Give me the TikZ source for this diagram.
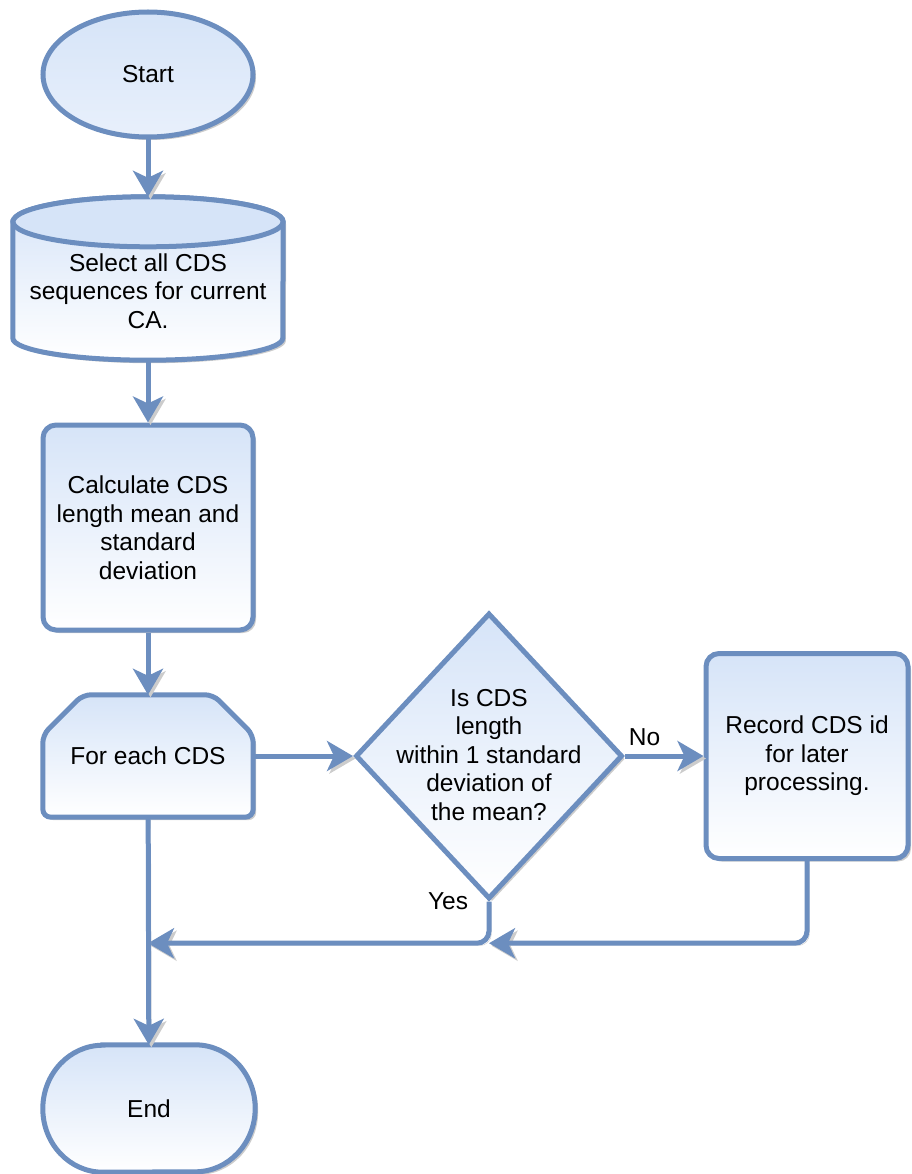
\documentclass[tikz,border=0pt]{standalone}
\usepackage{fontspec}
\setmainfont{Liberation Sans}
\usetikzlibrary{shapes.geometric,arrows.meta,shadows,calc,backgrounds}
\definecolor{lineblue}{RGB}{108,142,191}
\definecolor{fillblue}{RGB}{214,228,248}
\begin{document}
\begin{tikzpicture}[x=1pt,y=1pt,
  every node/.style={font=\fontsize{24.5pt}{28.5pt}\selectfont, align=center, inner sep=0pt},
  shadowed/.style={drop shadow={shadow xshift=3pt,shadow yshift=-3pt,fill=black,opacity=0.2}},
  boxfill/.style={top color=fillblue, bottom color=white, draw=lineblue, line width=5pt, shadowed},
  startshape/.style={ellipse, top color=fillblue, bottom color=fillblue!55, draw=lineblue, line width=5pt, shadowed,
                     minimum width=210pt, minimum height=125pt},
  process/.style={rectangle, rounded corners=13pt, boxfill},
  decision/.style={diamond, boxfill, minimum width=267pt, minimum height=286pt},
  conn/.style={draw=lineblue, line width=5pt, -{Stealth[length=26pt,width=30pt,inset=7pt]},
               preaction={draw=black!20, transform canvas={xshift=2.5pt,yshift=-2.5pt}}}
]
\useasboundingbox (0,0) rectangle (911,-1174);

% nodes
\node[startshape] (start) at (148,-74.5) {Start};
\node[minimum width=270pt, minimum height=138pt] (sel) at (148,-291)
  {Select all CDS\\sequences for current\\CA.};
\node[process, minimum width=210pt, minimum height=205pt] (calc) at (148,-527.5)
  {Calculate CDS\\length mean and\\standard\\deviation};
\node[minimum width=210pt, minimum height=122pt] (loop) at (148,-756) {For each CDS};
\node[decision] (dec) at (489,-756) {};
\node (dectxt) at (489,-755) {Is CDS\\length\\within 1 standard\\deviation of\\the mean?};
\node[process, minimum width=202pt, minimum height=205pt] (rec) at (807,-756)
  {Record CDS id\\for later\\processing.};
\node[minimum width=212pt, minimum height=127pt] (end) at (149,-1108.5) {End};

% outlines of the custom shapes, behind their texts
\begin{scope}[on background layer]
  % database cylinder
  \path[boxfill] (sel.north west) -- ($(sel.south west)+(0,22)$)
     arc[start angle=180, end angle=360, x radius=135pt, y radius=22pt]
     -- (sel.north east)
     arc[start angle=0, end angle=180, x radius=135pt, y radius=25pt] -- cycle;
  \path[draw=lineblue, line width=5pt, fill=fillblue] (sel.north) ellipse[x radius=135pt, y radius=25pt];
  % loop limit
  \path[boxfill, rounded corners=8pt] (loop.west) -- ($(loop.north west)+(0,-40)$)
     -- ($(loop.north west)+(40,0)$) -- ($(loop.north east)+(-40,0)$)
     -- ($(loop.north east)+(0,-40)$) -- (loop.south east) -- (loop.south west) -- cycle;
  % terminator
  \path[boxfill] ($(end.north west)+(60,0)$) -- ($(end.north east)+(-60,0)$)
     arc[start angle=90, end angle=-90, x radius=60pt, y radius=63.5pt]
     -- ($(end.south west)+(60,0)$)
     arc[start angle=270, end angle=90, x radius=60pt, y radius=63.5pt] -- cycle;
\end{scope}

% connectors
\coordinate (capTop) at ($(sel.north)+(0,25)$);
\coordinate (mergeL) at ($(loop.south)+(0,-126)$);
\draw[conn] (start) -- (capTop);
\draw[conn] (sel.south) -- (calc.north);
\draw[conn] (calc) -- (loop);
\draw[conn] (loop.east) -- (dec.west);
\draw[conn] (dec.east) -- node[pos=0.25, above=8pt] (no) {No} (rec.west);
\draw[conn, rounded corners=12pt] (dec.south) |- (mergeL);
\draw[conn, rounded corners=12pt] (rec.south) |- (dec.south |- mergeL);
\draw[conn] (loop) -- (end);
\node (yes) at ($(dec.south)+(-41,0)$) {Yes};
\end{tikzpicture}
\end{document}
